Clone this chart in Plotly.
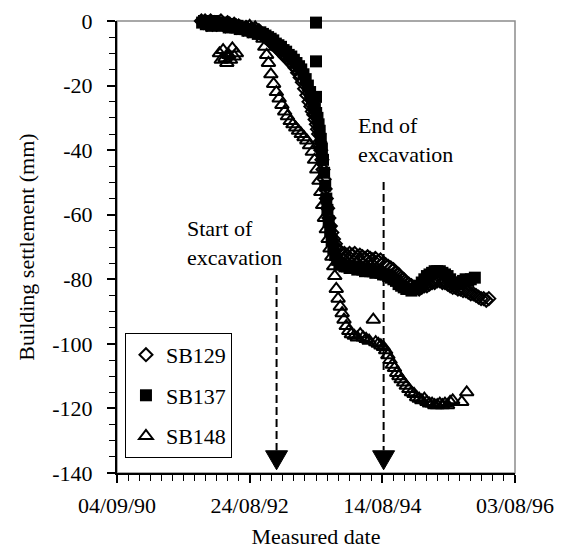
import plotly.graph_objects as go
import pandas as pd

# ---------------- data (days after 04/09/90, settlement in mm) ----------------
BASE_DATE = "1990-09-04"

sb129_day = [458, 468, 478, 488, 498, 508, 518, 528, 540, 552,
             564, 576, 588, 600, 612, 624, 636, 648, 660, 672,
             686, 700, 714, 728, 742, 756, 770, 784, 798, 812,
             826, 840, 854, 868, 882, 896, 910, 924, 938, 952,
             966, 980, 994, 1006, 1018, 1030, 1042, 1052, 1060, 1068,
             1075, 1082, 1088, 1094, 1100, 1106, 1112, 1118, 1124, 1130,
             1136, 1143, 1150, 1158, 1166, 1175, 1185, 1196, 1208, 1220,
             1234, 1248, 1262, 1276, 1290, 1304, 1318, 1332, 1346, 1360,
             1374, 1388, 1402, 1416, 1430, 1444, 1458, 1472, 1486, 1500,
             1514, 1528, 1542, 1556, 1570, 1584, 1598, 1612, 1626, 1640,
             1654, 1668, 1682, 1696, 1710, 1724, 1738, 1752, 1766, 1780,
             1794, 1808, 1822, 1836, 1850, 1864, 1878, 1892, 1906, 1920,
             1934, 1948, 1962, 1976, 1990, 2004, 2018]
sb129_val = [0, -0.5, 0, -1, -0.5, 0, -1, -0.5, -1, -0.5,
             0, -1, -1.5, -0.5, -1, -1.5, -1, -2, -1.5, -2,
             -2.5, -2, -3, -2.5, -3, -3.5, -3, -4, -4.5, -5,
             -6, -7, -7.5, -8.5, -9, -10, -11, -11.5, -12.5, -13.5,
             -14.5, -16, -17.5, -19, -21, -23, -25, -26.5, -28, -29,
             -30.5, -32, -33.5, -35, -37.5, -40, -43, -46, -49, -52,
             -55, -58, -61, -63.5, -65.5, -67.5, -69, -70.5, -71.5, -72,
             -72, -72.5, -72, -72.5, -72, -73, -72.5, -73, -73.5, -73,
             -73.5, -74, -73.5, -74.5, -74, -75, -75.5, -76, -76.5, -77,
             -78, -78.5, -79.5, -80, -81, -81.5, -82, -82.5, -82.5, -83,
             -82.5, -82, -82, -81.5, -81, -81, -80.5, -80.5, -81, -81,
             -81.5, -82, -82.5, -82.5, -83, -83, -83.5, -83.5, -84, -84.5,
             -84.5, -85, -85.5, -86, -86, -86.5, -86]

sb137_day = [462, 472, 482, 492, 502, 512, 522, 534, 546, 558,
             570, 582, 594, 606, 618, 630, 642, 654, 666, 680,
             694, 708, 722, 736, 750, 764, 778, 792, 806, 820,
             834, 848, 862, 876, 890, 904, 918, 932, 946, 960,
             974, 988, 1000, 1012, 1024, 1036, 1048, 1058, 1066, 1074,
             1081, 1088, 1094, 1100, 1106, 1112, 1118, 1124, 1130, 1136,
             1142, 1149, 1157, 1165, 1174, 1184, 1195, 1207, 1220, 1234,
             1248, 1262, 1276, 1290, 1304, 1318, 1332, 1346, 1360, 1374,
             1388, 1402, 1416, 1430, 1444, 1458, 1472, 1486, 1500, 1514,
             1528, 1542, 1556, 1570, 1584, 1598, 1612, 1626, 1640, 1654,
             1668, 1682, 1696, 1710, 1724, 1738, 1752, 1766, 1780, 1794,
             1808, 1822, 1836, 1850, 1864, 1878, 1892, 1906, 1920, 1942,
             1080, 1080, 1080]
sb137_val = [-0.5, 0, -1, 0, -0.5, -1.5, 0, -1, -0.5, -1,
             -1.5, -0.5, -1, -2, -1, -1.5, -2, -1.5, -2.5, -2,
             -2.5, -3, -2.5, -3.5, -3, -4, -3.5, -4, -4.5, -5,
             -5.5, -6, -7, -7.5, -8, -9, -9.5, -10.5, -11, -12,
             -13, -14, -15, -16.5, -18, -20, -22, -24, -25.5, -27,
             -28.5, -30, -32, -34, -36.5, -39.5, -43, -47, -51, -55,
             -58.5, -62, -65, -68, -70.5, -72.5, -74, -75, -75.5, -76,
             -76, -76.5, -76, -76.5, -77, -76.5, -77, -77.5, -77, -77.5,
             -77.5, -78, -77.5, -78, -78.5, -78.5, -79, -79.5, -80, -80.5,
             -81.5, -82, -82.5, -83, -83, -83.5, -83, -82.5, -82, -81,
             -80, -79, -78.5, -78, -77.5, -77.5, -77.5, -78, -78.5, -79,
             -80, -81, -81.5, -81.5, -81, -80.5, -80, -80.5, -80, -79.5,
             -0.5, -12.5, -23.5]

sb148_day = [556, 566, 576, 586, 596, 606, 616, 626, 636, 648,
             690, 705, 720, 735, 750, 765, 780, 792, 802, 812,
             822, 835, 850, 865, 880, 895, 910, 925, 940, 955,
             970, 985, 1000, 1015, 1030, 1045, 1060, 1072, 1084, 1096,
             1106, 1116, 1126, 1136, 1146, 1156, 1166, 1176, 1182, 1190,
             1200, 1212, 1222, 1232, 1244, 1258, 1272, 1288, 1304, 1320,
             1336, 1352, 1368, 1391, 1404, 1418, 1432, 1446, 1458, 1470,
             1482, 1494, 1506, 1518, 1530, 1542, 1556, 1570, 1584, 1598,
             1612, 1626, 1640, 1654, 1668, 1682, 1696, 1710, 1724, 1738,
             1752, 1766, 1780, 1794, 1808, 1822, 1871, 1898]
sb148_val = [-10, -12, -9, -11.5, -13, -10.5, -12, -8.5, -11, -10,
             -3, -2, -1.5, -2.5, -2, -3, -3.5, -5.5, -8, -10.5,
             -13, -16.5, -19.5, -22, -24, -26, -28, -29.5, -31, -32,
             -33, -34, -35, -36, -37, -38.5, -40.5, -43, -46, -49.5,
             -53, -57, -61, -64.5, -67.5, -70.5, -73, -76, -79, -83,
             -86, -88.5, -90.5, -92.5, -94.5, -96, -97, -97.5, -98, -97,
             -98, -98.5, -99, -92.5, -99.5, -100, -100.5, -101, -102, -103.5,
             -105, -106.5, -107.5, -109, -110, -111, -112, -113, -114, -115,
             -115.5, -116.5, -117, -117.5, -117, -118, -118.5, -118.5, -119, -119,
             -118.5, -119, -118.5, -119, -118, -117.5, -118, -115]

# x-axis ticks (dates) and y-axis ticks
x_tick_dates = ["1990-09-04", "1992-08-24", "1994-08-14", "1996-08-03"]
y_tick_vals = [0, -20, -40, -60, -80, -100, -120, -140]
y_tick_text = ["0", "-20", "-40", "-60", "-80", "-100", "-120", "-140"]

# excavation events
event_dates = ["1993-01-17", "1994-08-21"]
event_labels = ["Start of<br>excavation", "End of<br>excavation"]
event_line_top = [-78.7, -49.9]

# ---------------------------------------------------------------------------
base = pd.Timestamp(BASE_DATE)


def to_dates(days):
    return [base + pd.Timedelta(days=d) for d in days]


FONT = "Liberation Serif"
DAY_MS = 86400000

fig = go.Figure()
fig.add_trace(go.Scatter(
    x=to_dates(sb129_day), y=sb129_val, mode="markers", name="SB129",
    legendgroup="a", cliponaxis=False,
    marker=dict(symbol="diamond-open", size=10, color="black",
                line=dict(width=2, color="black"))))
fig.add_trace(go.Scatter(
    x=to_dates(sb137_day), y=sb137_val, mode="markers", name="SB137",
    legendgroup="b", cliponaxis=False,
    marker=dict(symbol="square", size=12, color="black",
                line=dict(width=0))))
fig.add_trace(go.Scatter(
    x=to_dates(sb148_day), y=sb148_val, mode="markers", name="SB148",
    legendgroup="c", cliponaxis=False,
    marker=dict(symbol="triangle-up-open", size=12, color="black",
                line=dict(width=2, color="black"))))

shapes = [dict(type="rect", xref="paper", yref="paper", x0=0, x1=1, y0=0, y1=1,
               line=dict(color="#8c8c8c", width=1.5), layer="below")]
annotations = []
for d, lab, top in zip(event_dates, event_labels, event_line_top):
    shapes.append(dict(type="line", xref="x", yref="y", x0=d, x1=d,
                       y0=top, y1=-133, line=dict(color="black", width=2,
                                                  dash="8px,4px")))
    shapes.append(dict(type="path", xref="x", yref="y", xsizemode="pixel",
                       ysizemode="pixel", xanchor=d, yanchor=-139,
                       path="M-11,19 L11,19 L0,0 Z", fillcolor="black",
                       line=dict(color="black", width=1)))

annotations.append(dict(xref="paper", yref="paper", x=0.172, y=0.508,
                        text=event_labels[0], showarrow=False, align="left",
                        xanchor="left", yanchor="middle",
                        font=dict(family=FONT, size=22, color="black")))
annotations.append(dict(xref="paper", yref="paper", x=0.600, y=0.736,
                        text=event_labels[1], showarrow=False, align="left",
                        xanchor="left", yanchor="middle",
                        font=dict(family=FONT, size=22, color="black")))

# The page body has an 8 px default margin, so the figure is sized to fit.
fig.update_layout(
    width=565, height=541,
    margin=dict(l=109, r=58, t=13, b=76, autoexpand=False),
    paper_bgcolor="white", plot_bgcolor="white",
    font=dict(family=FONT, size=22, color="black"),
    showlegend=True,
    legend=dict(x=0.02, y=0.31, xanchor="left", yanchor="top",
                bordercolor="black", borderwidth=1, bgcolor="white",
                font=dict(family=FONT, size=22, color="black"),
                tracegroupgap=9, traceorder="grouped"),
    shapes=shapes, annotations=annotations,
    xaxis=dict(type="date", range=[x_tick_dates[0], x_tick_dates[-1]],
               automargin=False,
               tickmode="linear", tick0=x_tick_dates[0], dtick=720 * DAY_MS,
               tickformat="%d/%m/%y", ticks="outside", ticklen=8,
               tickwidth=1.5, tickcolor="black", showline=True,
               linecolor="black", linewidth=2, showgrid=False, zeroline=False,
               ticklabelstandoff=4,
               minor=dict(tick0=x_tick_dates[0], dtick=60 * DAY_MS,
                          ticks="outside", ticklen=6, tickwidth=1.2,
                          tickcolor="black", showgrid=False),
               title=dict(text="Measured date", standoff=18,
                          font=dict(family=FONT, size=22, color="black")),
               tickfont=dict(family=FONT, size=22, color="black")),
    yaxis=dict(range=[-140, 0], tickmode="array", tickvals=y_tick_vals,
               automargin=False,
               ticktext=y_tick_text, ticks="outside", ticklen=8,
               tickwidth=1.5, tickcolor="black", showline=True,
               linecolor="black", linewidth=2, showgrid=False, zeroline=False,
               ticklabelstandoff=10,
               minor=dict(tickmode="linear", tick0=0, dtick=5,
                          ticks="outside", ticklen=6, tickwidth=1.2,
                          tickcolor="black", showgrid=False),
               title=dict(text="Building settlement (mm)", standoff=12,
                          font=dict(family=FONT, size=22, color="black")),
               tickfont=dict(family=FONT, size=22, color="black")),
)

fig.write_html("out.html")
